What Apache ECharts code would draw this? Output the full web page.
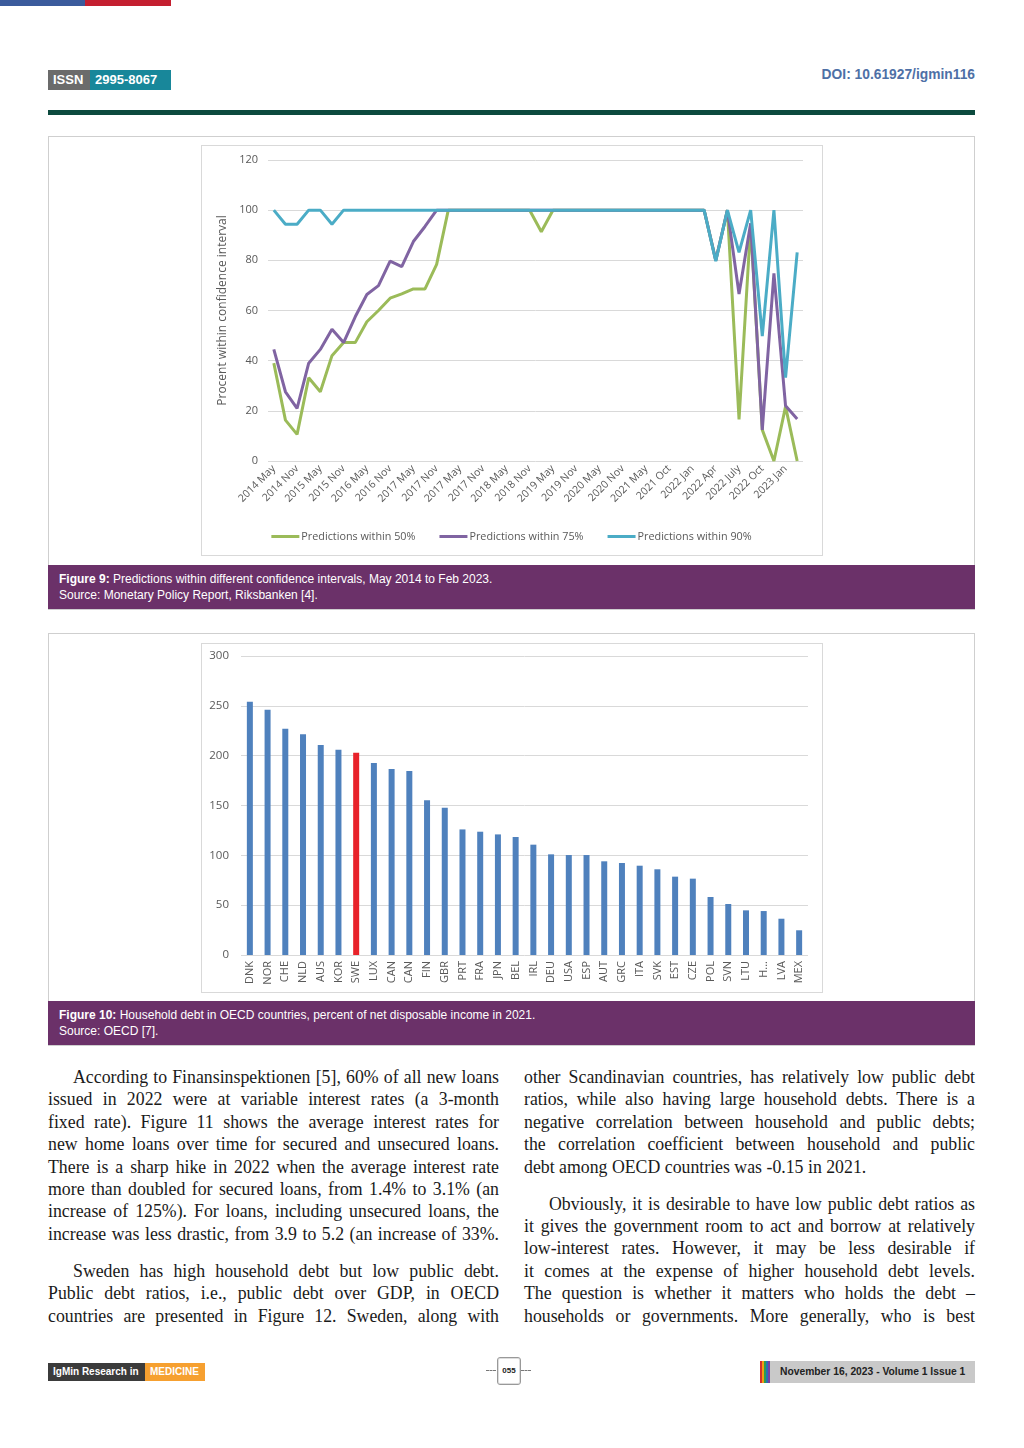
<!DOCTYPE html>
<html>
<head>
<meta charset="utf-8">
<script src="https://cdn.jsdelivr.net/npm/echarts@6/dist/echarts.min.js"></script>
<style>
  html, body { margin:0; padding:0; background:#fff; }
  body { width:1024px; height:1448px; position:relative; overflow:hidden; font-family:"Liberation Sans", Arial, sans-serif; }
  .abs { position:absolute; }
  .topbar-b { left:0; top:0; width:85px; height:6px; background:#3b5b9c; }
  .topbar-r { left:85px; top:0; width:86px; height:6px; background:#c41f30; }
  .issn { left:48px; top:70px; height:20px; display:flex; font-weight:bold; font-size:13px; color:#fff; line-height:20px; }
  .issn .a { background:#6b6b6b; padding:0 5px; width:32px; }
  .issn .b { background:#18879a; padding:0 5px; width:71px; }
  .doi { right:49px; top:67px; font-size:13.8px; font-weight:bold; color:#4e70a6; }
  .rule { left:48px; top:110px; width:927px; height:5px; background:#0c4a3e; }
  .fig { left:48px; width:925px; border:1px solid #cfcfcf; }
  .frame { border:1px solid #d9d9d9; background:#fff; }
  .cap { left:48px; width:927px; background:#6b3169; color:#fff; font-size:12px; line-height:16px; box-sizing:border-box; padding:6px 11px; }
  .col { width:451px; font-family:"Liberation Serif", "Times New Roman", serif; font-size:17.8px; color:#1a1a1a; }
  .ln { display:block; height:22.4px; line-height:22.4px; text-align:justify; text-align-last:justify; white-space:normal; }
  .ln.last { text-align-last:left; }
  .ln.ind { padding-left:25px; }
  .gap { height:14.6px; }
  .foot-l { left:48px; top:1363px; height:18px; display:flex; font-size:10px; font-weight:bold; color:#fff; line-height:18px; }
  .foot-l .a { background:#3b3b3b; padding:0 5px; width:87px; }
  .foot-l .b { background:#f6a030; padding:0 5px; width:50px; }
  .pg { left:497px; top:1357px; width:22px; height:26px; border:1px solid #999; border-radius:3px; font-size:8px; font-weight:bold; text-align:center; line-height:26px; color:#222; box-shadow:inset 0 0 0 1px #ddd; }
  .dash { top:1370px; width:10px; border-top:1px dashed #777; }
  .foot-r { left:760px; top:1361px; width:215px; height:22px; background:#c9c9c9; }
  .stripe { top:1361px; height:22px; width:2px; }
  .foot-r span { position:absolute; left:20px; top:0; line-height:22px; font-size:10.3px; font-weight:bold; color:#222; }
</style>
</head>
<body>
<div class="abs topbar-b"></div><div class="abs topbar-r"></div>
<div class="abs issn"><div class="a">ISSN</div><div class="b">2995-8067</div></div>
<div class="abs doi">DOI: 10.61927/igmin116</div>
<div class="abs rule"></div>

<div class="abs fig" style="top:136px;height:472px;"></div>
<div class="abs frame" style="left:201px;top:145px;width:620px;height:409px;"></div>
<div id="c1" class="abs" style="left:201px;top:145px;width:621px;height:410px;"></div>
<div class="abs cap" style="top:565px;height:44px;"><b>Figure 9:</b> Predictions within different confidence intervals, May 2014 to Feb 2023.<br>Source: Monetary Policy Report, Riksbanken [4].</div>

<div class="abs fig" style="top:633px;height:411px;"></div>
<div class="abs frame" style="left:201px;top:643px;width:620px;height:348px;"></div>
<div id="c2" class="abs" style="left:201px;top:643px;width:621px;height:349px;"></div>
<div class="abs cap" style="top:1001px;height:44px;"><b>Figure 10:</b> Household debt in OECD countries, percent of net disposable income in 2021.<br>Source: OECD [7].</div>

<div class="abs col" style="left:48px;top:1066px;">
  <span class="ln ind">According to Finansinspektionen [5], 60% of all new loans</span>
  <span class="ln">issued in 2022 were at variable interest rates (a 3-month</span>
  <span class="ln">fixed rate). Figure 11 shows the average interest rates for</span>
  <span class="ln">new home loans over time for secured and unsecured loans.</span>
  <span class="ln">There is a sharp hike in 2022 when the average interest rate</span>
  <span class="ln">more than doubled for secured loans, from 1.4% to 3.1% (an</span>
  <span class="ln">increase of 125%). For loans, including unsecured loans, the</span>
  <span class="ln">increase was less drastic, from 3.9 to 5.2 (an increase of 33%.</span>
  <div class="gap"></div>
  <span class="ln ind">Sweden has high household debt but low public debt.</span>
  <span class="ln">Public debt ratios, i.e., public debt over GDP, in OECD</span>
  <span class="ln">countries are presented in Figure 12. Sweden, along with</span>
</div>
<div class="abs col" style="left:524px;top:1066px;">
  <span class="ln">other Scandinavian countries, has relatively low public debt</span>
  <span class="ln">ratios, while also having large household debts. There is a</span>
  <span class="ln">negative correlation between household and public debts;</span>
  <span class="ln">the correlation coefficient between household and public</span>
  <span class="ln last">debt among OECD countries was -0.15 in 2021.</span>
  <div class="gap"></div>
  <span class="ln ind">Obviously, it is desirable to have low public debt ratios as</span>
  <span class="ln">it gives the government room to act and borrow at relatively</span>
  <span class="ln">low-interest rates. However, it may be less desirable if</span>
  <span class="ln">it comes at the expense of higher household debt levels.</span>
  <span class="ln">The question is whether it matters who holds the debt –</span>
  <span class="ln">households or governments. More generally, who is best</span>
</div>

<div class="abs foot-l"><div class="a">IgMin Research in</div><div class="b">MEDICINE</div></div>
<div class="abs dash" style="left:486px;"></div>
<div class="abs dash" style="left:521px;"></div>
<div class="abs pg">055</div>
<div class="abs foot-r"><span>November 16, 2023 - Volume 1 Issue 1</span></div>
<div class="abs stripe" style="left:760px;background:#d32f2f;"></div>
<div class="abs stripe" style="left:762px;background:#f39c12;"></div>
<div class="abs stripe" style="left:764px;background:#2e9e4f;"></div>
<div class="abs stripe" style="left:766px;background:#2a6fb5;"></div>
<div class="abs stripe" style="left:768px;background:#7a3fa0;"></div>

<script>
// ---------- Figure 9 data ----------
const tickLabels = ["2014 May","2014 Nov","2015 May","2015 Nov","2016 May","2016 Nov","2017 May","2017 Nov","2017 May","2017 Nov","2018 May","2018 Nov","2019 May","2019 Nov","2020 May","2020 Nov","2021 May","2021 Oct","2022 Jan","2022 Apr","2022 July","2022 Oct","2023 Jan"];
const within50 = [39,16.3,10.6,33.2,27.6,42,47.2,47.2,55.5,60,64.9,66.6,68.6,68.6,78.4,100,100,100,100,100,100,100,100,91.4,100,100,100,100,100,100,100,100,100,100,100,100,100,100,80,100,16.6,94,12.4,0,21.7,0];
const within75 = [44.5,27.6,21,39,44.5,52.5,47.2,57.5,66.4,69.9,79.7,77.5,87.5,93.5,100,100,100,100,100,100,100,100,100,100,100,100,100,100,100,100,100,100,100,100,100,100,100,100,80,100,66.6,94.8,12.4,74.8,22,16.7];
const within90 = [100,94.4,94.4,100,100,94.4,100,100,100,100,100,100,100,100,100,100,100,100,100,100,100,100,100,100,100,100,100,100,100,100,100,100,100,100,100,100,100,100,79.7,100,83.2,100,49.8,100,33.2,83.2];
const seriesNames = ["Predictions within 50%","Predictions within 75%","Predictions within 90%"];

// ---------- Figure 10 data ----------
const countries = ["DNK","NOR","CHE","NLD","AUS","KOR","SWE","LUX","CAN","CAN","FIN","GBR","PRT","FRA","JPN","BEL","IRL","DEU","USA","ESP","AUT","GRC","ITA","SVK","EST","CZE","POL","SVN","LTU","H...","LVA","MEX"];
const householdDebt = [254,246,227,221.4,210.7,206,203,192.6,186.6,184.6,155.2,147.8,126,123.7,121,118.4,110.7,101,100.3,100.3,94,92.3,89.6,86,78.6,76.6,58.2,51.2,44.8,44.1,36.4,24.8];
const highlight = "SWE";

// categories: one per report, labelled every second one
const cats = [];
for (let i = 0; i < within50.length; i++) cats.push(i % 2 === 0 ? tickLabels[i / 2] : "");

const gray = "#595959";
const c1 = echarts.init(document.getElementById("c1"));
c1.setOption({
  animation: false,
  grid: { left: 67, right: 19, top: 15, bottom: 94 },
  legend: {
    data: seriesNames, top: 381, left: 'center', icon: 'rect', itemWidth: 28, itemHeight: 3, itemGap: 24,
    textStyle: { color: gray, fontSize: 10.8, fontFamily: "Open Sans", padding: [0, 0, 0, -3] }
  },
  xAxis: {
    type: 'category', data: cats, boundaryGap: true,
    axisLine: { show: false }, axisTick: { show: false },
    axisLabel: { interval: 0, rotate: 45, color: gray, fontSize: 10.5, fontFamily: "Open Sans", margin: 6 }
  },
  yAxis: {
    type: 'value', min: 0, max: 120, interval: 20,
    name: "Procent within confidence interval", nameLocation: 'middle', nameGap: 34,
    nameTextStyle: { color: gray, fontSize: 12, fontFamily: "Open Sans" },
    axisLabel: { color: gray, fontSize: 11, fontFamily: "Open Sans", margin: 10 },
    splitLine: { lineStyle: { color: "#d9d9d9", width: 1 } }
  },
  series: [
    { name: seriesNames[0], type: 'line', data: within50, symbol: 'none', lineStyle: { width: 3, color: "#9bbb59" }, itemStyle: { color: "#9bbb59" } },
    { name: seriesNames[1], type: 'line', data: within75, symbol: 'none', lineStyle: { width: 3, color: "#8064a2" }, itemStyle: { color: "#8064a2" } },
    { name: seriesNames[2], type: 'line', data: within90, symbol: 'none', lineStyle: { width: 3, color: "#4bacc6" }, itemStyle: { color: "#4bacc6" } }
  ]
});

const c2 = echarts.init(document.getElementById("c2"));
c2.setOption({
  animation: false,
  grid: { left: 40, right: 14, top: 13, bottom: 37 },
  xAxis: {
    type: 'category', data: countries,
    axisLine: { show: false }, axisTick: { show: false },
    axisLabel: { interval: 0, rotate: 90, color: gray, fontSize: 11, fontFamily: "Open Sans", margin: 6 }
  },
  yAxis: {
    type: 'value', min: 0, max: 300, interval: 50,
    axisLabel: { color: gray, fontSize: 11.5, fontFamily: "Open Sans", margin: 12 },
    splitLine: { lineStyle: { color: "#d9d9d9", width: 1 } }
  },
  series: [{
    type: 'bar', barWidth: 6,
    data: householdDebt.map((v, i) => ({ value: v, itemStyle: { color: countries[i] === highlight ? "#e8222a" : "#4f81bd" } }))
  }]
});
</script>
</body>
</html>
